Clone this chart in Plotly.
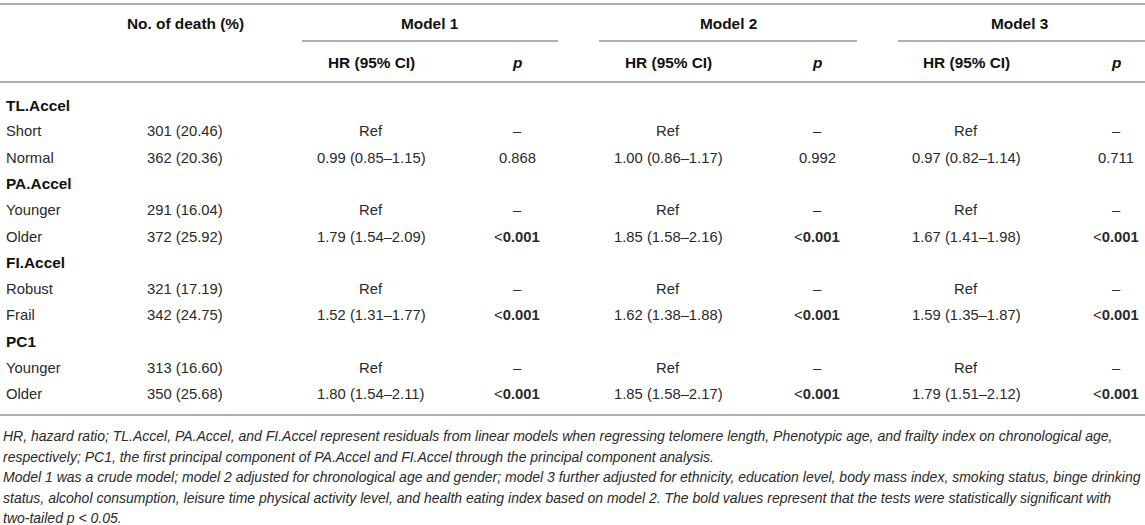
import plotly.graph_objects as go

# ---- data ----
groups = ["TL.Accel", "PA.Accel", "FI.Accel", "PC1"]
levels = [["Short", "Normal"], ["Younger", "Older"], ["Robust", "Frail"], ["Younger", "Older"]]
deaths = [["301 (20.46)", "362 (20.36)"], ["291 (16.04)", "372 (25.92)"],
          ["321 (17.19)", "342 (24.75)"], ["313 (16.60)", "350 (25.68)"]]
m1_hr = [["Ref", "0.99 (0.85–1.15)"], ["Ref", "1.79 (1.54–2.09)"], ["Ref", "1.52 (1.31–1.77)"], ["Ref", "1.80 (1.54–2.11)"]]
m1_p = [["–", "0.868"], ["–", "<0.001"], ["–", "<0.001"], ["–", "<0.001"]]
m2_hr = [["Ref", "1.00 (0.86–1.17)"], ["Ref", "1.85 (1.58–2.16)"], ["Ref", "1.62 (1.38–1.88)"], ["Ref", "1.85 (1.58–2.17)"]]
m2_p = [["–", "0.992"], ["–", "<0.001"], ["–", "<0.001"], ["–", "<0.001"]]
m3_hr = [["Ref", "0.97 (0.82–1.14)"], ["Ref", "1.67 (1.41–1.98)"], ["Ref", "1.59 (1.35–1.87)"], ["Ref", "1.79 (1.51–2.12)"]]
m3_p = [["–", "0.711"], ["–", "<0.001"], ["–", "<0.001"], ["–", "<0.001"]]
models = ["Model 1", "Model 2", "Model 3"]
col_header_death = "No. of death (%)"
sub_hr = "HR (95% CI)"
sub_p = "p"
footnotes = [
    "HR, hazard ratio; TL.Accel, PA.Accel, and FI.Accel represent residuals from linear models when regressing telomere length, Phenotypic age, and frailty index on chronological age,",
    "respectively; PC1, the first principal component of PA.Accel and FI.Accel through the principal component analysis.",
    "Model 1 was a crude model; model 2 adjusted for chronological age and gender; model 3 further adjusted for ethnicity, education level, body mass index, smoking status, binge drinking",
    "status, alcohol consumption, leisure time physical activity level, and health eating index based on model 2. The bold values represent that the tests were statistically significant with",
    "two-tailed p &lt; 0.05.",
]

# ---- layout geometry ----
W, H = 1145, 525
FONT = "Liberation Sans, Arial, Helvetica, sans-serif"
TXT = "#2a2a2a"
HEAD = "#111111"
LINE = "#b0b0b0"
body_size = 14.8
head_size = 15.4
foot_size = 14.0

x_label = 4
x_death = 185
x_model = [430, 728, 1019]
x_hr = [371, 668, 966]
x_p = [517, 817, 1116]
model_lines = [(302, 558), (599, 857), (898, 1145)]
y_model, y_sub = 23, 62
y_first, dy = 105, 26.3
y_lines = [4, 82, 415]
y_foot0, dy_foot = 436, 20.5

ann = []
shapes = []


def add(x, y, text, anchor="center", bold=False, size=body_size, color=TXT, italic=False):
    t = text
    if bold:
        t = "<b>" + t + "</b>"
    if italic:
        t = "<i>" + t + "</i>"
    ann.append(dict(x=x, y=y, xref="x", yref="y", text=t, showarrow=False,
                    xanchor=anchor, yanchor="middle",
                    font=dict(family=FONT, size=size, color=color)))


def fmt_p(v):
    if v.startswith("<"):
        return "&lt;<b>" + v[1:] + "</b>"
    return v


# headers
add(x_death, y_model, col_header_death, bold=True, size=head_size, color=HEAD)
for i, m in enumerate(models):
    add(x_model[i], y_model, m, bold=True, size=head_size, color=HEAD)
    add(x_hr[i], y_sub, sub_hr, bold=True, size=head_size, color=HEAD)
    add(x_p[i], y_sub, "<i>" + sub_p + "</i>", bold=True, size=head_size, color=HEAD)
    x0, x1 = model_lines[i]
    shapes.append(dict(type="line", xref="x", yref="y", x0=x0, x1=x1, y0=41, y1=41,
                       line=dict(color=LINE, width=2)))
for yl in y_lines:
    shapes.append(dict(type="line", xref="x", yref="y", x0=0, x1=W, y0=yl, y1=yl,
                       line=dict(color=LINE, width=2)))

# body
r = 0
hrs = [m1_hr, m2_hr, m3_hr]
ps = [m1_p, m2_p, m3_p]
for g, grp in enumerate(groups):
    add(x_label, y_first + r * dy, grp, anchor="left", bold=True, size=head_size, color=HEAD)
    r += 1
    for k, lev in enumerate(levels[g]):
        y = y_first + r * dy
        add(x_label, y, lev, anchor="left")
        add(x_death, y, deaths[g][k])
        for i in range(3):
            add(x_hr[i], y, hrs[i][g][k])
            add(x_p[i], y, fmt_p(ps[i][g][k]))
        r += 1

# footnotes
for j, line in enumerate(footnotes):
    add(1, y_foot0 + j * dy_foot, line, anchor="left", italic=True, size=foot_size)

fig = go.Figure()
fig.add_trace(go.Scatter(x=[0, W], y=[0, H], mode="markers", marker=dict(opacity=0), hoverinfo="skip",
                         showlegend=False))
fig.update_layout(
    width=W, height=H, margin=dict(l=0, r=0, t=0, b=0),
    paper_bgcolor="white", plot_bgcolor="white",
    xaxis=dict(range=[0, W], visible=False, fixedrange=True),
    yaxis=dict(range=[H, 0], visible=False, fixedrange=True),
    annotations=ann, shapes=shapes, showlegend=False,
)
fig.write_html("out.html", config={"displayModeBar": False},
               post_script="document.body.style.margin='0';document.body.style.padding='0';document.documentElement.style.overflow='hidden';")
